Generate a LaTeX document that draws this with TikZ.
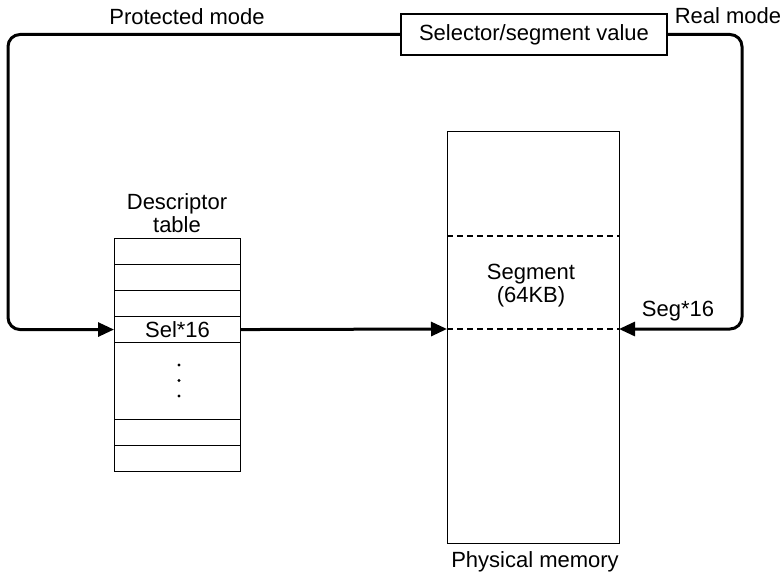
\documentclass[tikz,border=0pt]{standalone}
\usepackage{fontspec}
\setmainfont{Liberation Sans}
\usetikzlibrary{arrows.meta}
\begin{document}
\begin{tikzpicture}[x=1pt,y=-1pt,
  txt/.style={font=\fontsize{22}{23}\selectfont, inner sep=0pt, align=center},
  thin/.style={line width=1.1pt},
  flow/.style={line width=3pt, rounded corners=12pt, -{Triangle[length=16pt,width=14pt]}},
  row/.style={draw, thin, minimum width=126pt, minimum height=26pt, inner sep=0pt, anchor=north west, font=\fontsize{22}{23}\selectfont}]
\useasboundingbox (0,0) rectangle (782,572);

% selector box
\node[draw, thin, txt, minimum width=266pt, minimum height=41pt] (sel) at (534,34.5) {Selector/segment value};

% descriptor table
\node[row] (d1) at (114,238) {};
\node[row] (d2) at (114,264) {};
\node[row] (d3) at (114,290) {};
\node[row] (d4) at (114,316) {Sel*16};
\node[row, minimum height=77pt] (d5) at (114,342) {};
\node[row] (d6) at (114,419) {};
\node[row] (d7) at (114,445) {};
\fill (179,365) circle (1.6pt) (179,380.5) circle (1.6pt) (179,396) circle (1.6pt);

% physical memory
\node[draw, thin, minimum width=172pt, minimum height=412pt, inner sep=0pt, anchor=north west] (mem) at (447,131) {};
\coordinate (m1l) at (447,236);
\coordinate (m1r) at (619,236);
\coordinate (m2l) at (447,329);
\coordinate (m2r) at (619,329);
\draw[thin, dash pattern=on 6pt off 4pt] (m1l) -- (m1r);
\draw[thin, dash pattern=on 6pt off 4pt] (m2l) -- (m2r);

% labels
\node[txt] (pm) at (187,17) {Protected mode};
\node[txt] (rm) at (728,16) {Real mode};
\node[txt] (dt) at (177,213) {Descriptor\\table};
\node[txt] (seg) at (531,286) {Segment\\(64KB)};
\node[txt] (s16) at (678,311) {Seg*16};
\node[txt] (phy) at (535,562) {Physical memory};

% connectors
\coordinate (tl) at (8,34.5);
\coordinate (tr) at (742,34.5);
\draw[flow] (sel.west) -- (tl) |- (d4.west);
\draw[flow] (sel.east) -- (tr) |- (m2r);
\draw[flow] (d4.east) -- (m2l);
\end{tikzpicture}
\end{document}
